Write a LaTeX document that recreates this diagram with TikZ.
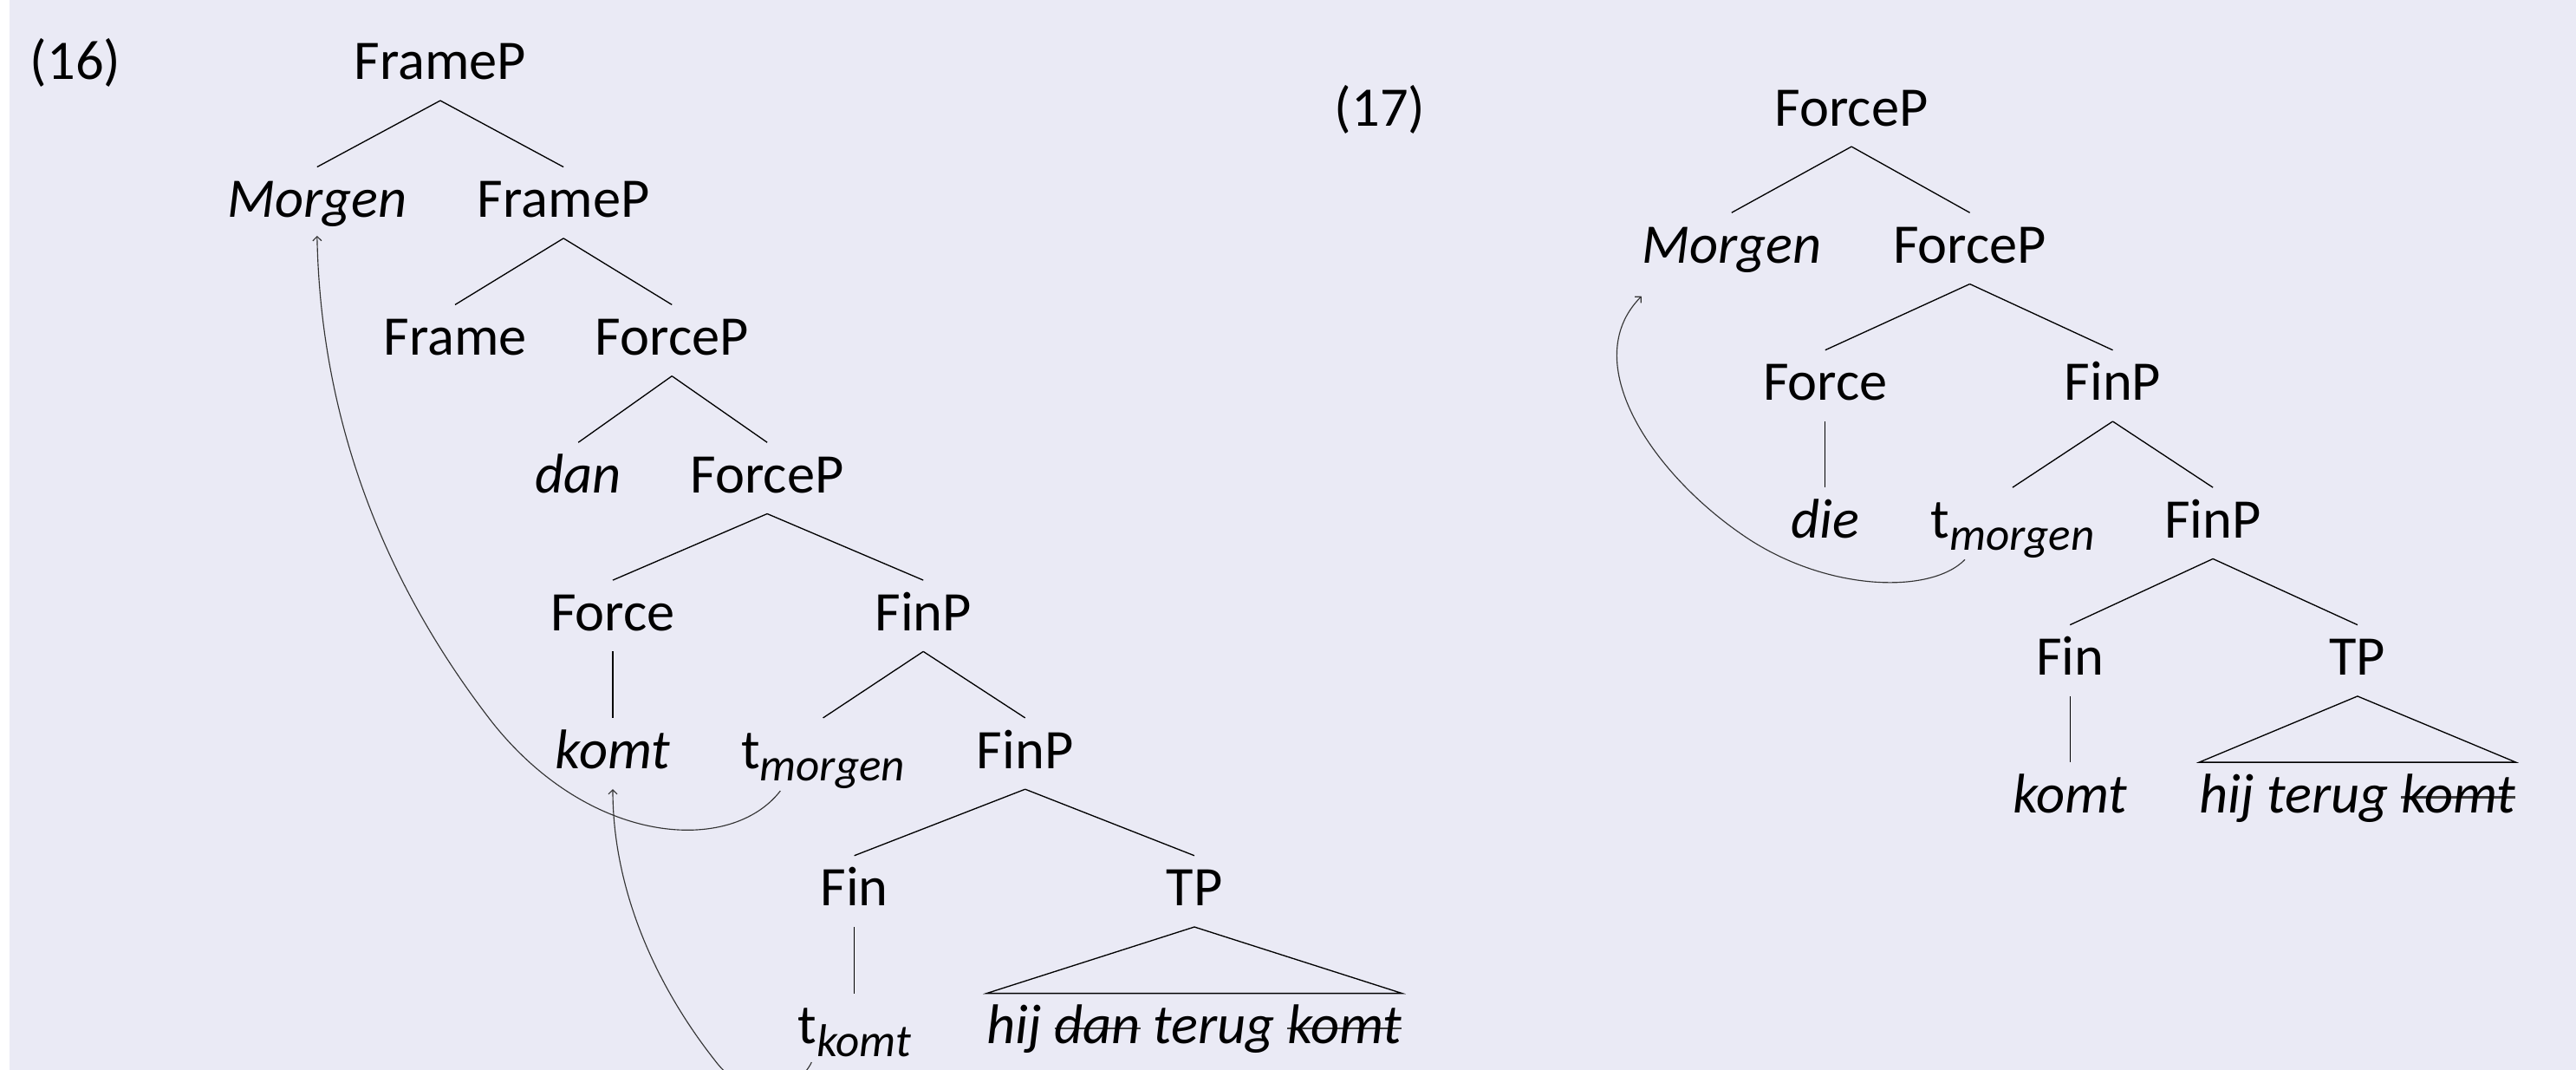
\documentclass[tikz,border=0pt]{standalone}
\usepackage{fontspec}
\setmainfont{Carlito}
\usetikzlibrary{arrows.meta}
\definecolor{bgc}{RGB}{234,234,245}
\newsavebox\strkbox
\newcommand\mystrike[1]{\sbox\strkbox{#1}\rlap{\textcolor{black!75}{\rule[0.26em]{\wd\strkbox}{1.3pt}}}\usebox\strkbox}
\newcommand\trsub[1]{t\raisebox{-7.5pt}{\fontsize{28}{30}\selectfont\itshape #1}}
\newcommand\brn[2]{\draw[brl] ([yshift=-3.5pt]#1.south) -- ([yshift=6.5pt]#2.north);}
\begin{document}
\begin{tikzpicture}[x=1pt,y=-1pt,
  tn/.style={inner sep=0pt, text height=24pt, text depth=9pt, font=\fontsize{34}{40}\selectfont},
  itn/.style={tn, font=\fontsize{34}{40}\selectfont\itshape},
  brl/.style={line width=0.7pt, black},
  mvarrow/.style={line width=0.6pt, black!80, -{Straight Barb[length=2.6pt,width=5.3pt]}}
]
\useasboundingbox (0,0) rectangle (1568,651);
\clip (0,0) rectangle (1568,651);
\fill[bgc] (0,0) rectangle (1568,651);
\fill[white] (0,0) rectangle (5.6,651);

% ---------- (16) ----------
\node[tn] (n16) at (46,41) {(16)};
\node[tn] (L0) at (268,41) {FrameP};
\node[itn] (L1a) at (193,124.8) {Morgen};
\node[tn] (L1b) at (343,124.8) {FrameP};
\node[tn] (L2a) at (277,208.6) {Frame};
\node[tn] (L2b) at (409,208.6) {ForceP};
\node[itn] (L3a) at (352,292.4) {dan};
\node[tn] (L3b) at (467,292.4) {ForceP};
\node[tn] (L4a) at (373,376.2) {Force};
\node[tn] (L4b) at (562,376.2) {FinP};
\node[itn] (L5a) at (373,460) {komt};
\node[tn] (L5b) at (501,460) {\trsub{morgen}};
\node[tn] (L5c) at (624,460) {FinP};
\node[tn] (L6a) at (520,543.8) {Fin};
\node[tn] (L6b) at (727,543.8) {TP};
\node[tn] (L7a) at (520,627.6) {\trsub{komt}};
\node[itn] (L7b) at (727,627.6) {hij \mystrike{dan} terug \mystrike{komt}};

\brn{L0}{L1a} \brn{L0}{L1b}
\brn{L1b}{L2a} \brn{L1b}{L2b}
\brn{L2b}{L3a} \brn{L2b}{L3b}
\brn{L3b}{L4a} \brn{L3b}{L4b}
\brn{L4a}{L5a}
\brn{L4b}{L5b} \brn{L4b}{L5c}
\brn{L5c}{L6a} \brn{L5c}{L6b}
\brn{L6a}{L7a}
\draw[brl] ([yshift=-3.5pt]L6b.south) -- ([yshift=6.5pt]L7b.north west) -- ([yshift=6.5pt]L7b.north east) -- cycle;

\draw[mvarrow] ([xshift=-26pt,yshift=-4.5pt]L5b.south) .. controls (445,520) and (360,515) .. (300,440) .. controls (230,350) and (195,250) .. ([yshift=-2pt]L1a.south);
\draw[mvarrow] ([xshift=-26pt,yshift=-2pt]L7a.south) .. controls (485,665) and (455,672) .. (435,645) .. controls (398,598) and (373,540) .. ([yshift=-3.5pt]L5a.south);

% ---------- (17) ----------
\node[tn] (n17) at (840,69) {(17)};
\node[tn] (R0) at (1127,69) {ForceP};
\node[itn] (R1a) at (1054,152.6) {Morgen};
\node[tn] (R1b) at (1199,152.6) {ForceP};
\node[tn] (R2a) at (1111,236.2) {Force};
\node[tn] (R2b) at (1286,236.2) {FinP};
\node[itn] (R3a) at (1111,319.8) {die};
\node[tn] (R3b) at (1225,319.8) {\trsub{morgen}};
\node[tn] (R3c) at (1347,319.8) {FinP};
\node[tn] (R4a) at (1260,403.4) {Fin};
\node[tn] (R4b) at (1435,403.4) {TP};
\node[itn] (R5a) at (1260,487) {komt};
\node[itn] (R5b) at (1435,487) {hij terug \mystrike{komt}};

\brn{R0}{R1a} \brn{R0}{R1b}
\brn{R1b}{R2a} \brn{R1b}{R2b}
\brn{R2a}{R3a}
\brn{R2b}{R3b} \brn{R2b}{R3c}
\brn{R3c}{R4a} \brn{R3c}{R4b}
\brn{R4a}{R5a}
\draw[brl] ([yshift=-3.5pt]R4b.south) -- ([yshift=6.5pt]R5b.north west) -- ([yshift=6.5pt]R5b.north east) -- cycle;

\draw[mvarrow] ([xshift=-29pt,yshift=-4pt]R3b.south) .. controls (1175,362) and (1110,360) .. (1060,325) .. controls (1005,287) and (960,220) .. ([yshift=-11pt]R1a.south west);
\end{tikzpicture}
\end{document}
